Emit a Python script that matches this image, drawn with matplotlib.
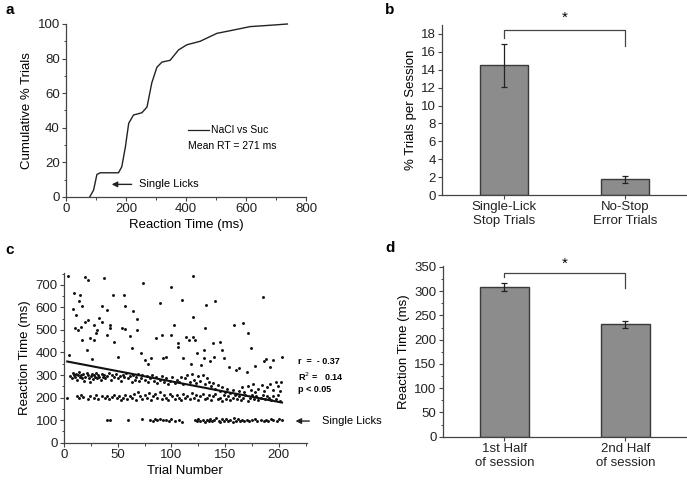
import numpy as np
import matplotlib
matplotlib.use("Agg")
import matplotlib.pyplot as plt
from matplotlib.ticker import MultipleLocator

plt.rcParams['font.family'] = ['Liberation Sans', 'DejaVu Sans']
plt.rcParams['font.size'] = 9

# ---- panel a: cumulative RT distribution
cum_rt = [79, 92, 103, 114, 175, 186, 198, 209, 225, 253, 270, 286, 303, 320, 347,
          375, 403, 447, 503, 558, 614, 692, 738]
cum_pct = [0, 4, 13, 14, 14, 17.5, 29, 42.6, 47.4, 48.7, 52, 66, 75, 78, 79,
           85, 88, 90, 94.6, 96.5, 98.5, 99.4, 100]

# ---- panel b: % trials per session
b_labels = ["Single-Lick\nStop Trials", "No-Stop\nError Trials"]
b_vals = [14.5, 1.75]
b_err = [2.4, 0.4]

# ---- panel c: RT vs trial number
upper_trial = [4, 9, 8, 11, 15, 14, 17, 20, 22, 22, 20, 10, 13, 16, 17, 21, 24, 28, 28, 33,
               35, 37, 35, 40, 31, 30, 40, 43, 43, 46, 47, 54, 57, 56, 57, 61, 63, 64, 68, 68,
               74, 72, 75, 89, 86, 91, 92, 95, 100, 102, 100, 106, 106, 110, 111, 114, 116, 120, 120, 120,
               122, 124, 132, 131, 130, 130, 139, 140, 145, 147, 141, 149, 154, 158, 160, 167, 171, 174, 170, 185,
               188, 186, 203, 195, 192, 5, 26, 50, 78, 81, 118, 128, 136, 163, 178]
upper_rt = [737, 663, 593, 567, 655, 626, 604, 734, 722, 545, 533, 508, 500, 512, 456, 411, 463, 522, 456, 552,
            537, 730, 604, 589, 500, 485, 478, 522, 508, 655, 448, 508, 503, 655, 604, 474, 419, 582, 548, 500,
            707, 397, 367, 618, 463, 478, 374, 382, 692, 522, 478, 441, 426, 633, 374, 470, 456, 737, 559, 470,
            456, 397, 611, 508, 411, 374, 441, 382, 448, 411, 626, 374, 334, 522, 323, 530, 485, 419, 315, 648,
            370, 360, 382, 367, 337, 390, 370, 380, 350, 375, 350, 345, 360, 330, 340]

band300_trial = [6, 7, 8, 9, 10, 11, 12, 13, 14, 15, 16, 17, 18, 19, 20, 21, 22, 23, 24, 25,
                 26, 27, 28, 29, 30, 31, 32, 33, 34, 35, 36, 37, 38, 40, 42, 44, 45, 47, 48, 50,
                 52, 53, 55, 56, 58, 60, 61, 63, 64, 66, 67, 69, 70, 72, 73, 75, 77, 78, 80, 82,
                 84, 86, 87, 89, 91, 93, 95, 97, 99, 101, 103, 105, 107, 109, 111, 113, 115, 117, 119, 121,
                 123, 125, 127, 129, 131, 133, 135, 137, 139, 141, 143, 145, 147, 150, 152, 155, 157, 160, 163, 166,
                 168, 171, 174, 176, 178, 181, 184, 186, 189, 192, 195, 197, 199, 201, 202]
band300_rt = [295, 285, 310, 300, 290, 305, 280, 300, 315, 290, 298, 285, 305, 275, 292, 310, 300, 288, 270, 295,
              305, 282, 298, 290, 310, 285, 300, 292, 278, 305, 290, 300, 285, 295, 310, 280, 300, 290, 305, 285,
              295, 275, 300, 290, 310, 285, 295, 270, 300, 280, 290, 305, 275, 285, 300, 280, 295, 270, 285, 300,
              275, 290, 265, 280, 295, 270, 285, 260, 275, 290, 265, 280, 270, 290, 260, 285, 300, 270, 305, 280,
              265, 295, 275, 300, 260, 285, 270, 250, 265, 240, 255, 230, 245, 225, 240, 220, 235, 215, 230, 245,
              225, 250, 235, 260, 225, 240, 255, 230, 245, 260, 235, 270, 250, 230, 270]

band200_trial = [3, 12, 14, 16, 18, 22, 24, 28, 30, 32, 35, 38, 40, 42, 45, 47, 49, 51, 53, 55,
                 57, 59, 61, 63, 65, 67, 69, 71, 73, 75, 77, 79, 81, 83, 85, 87, 89, 91, 93, 95,
                 97, 99, 101, 103, 105, 107, 109, 111, 113, 115, 117, 119, 121, 123, 125, 127, 129, 131, 133, 135,
                 137, 139, 141, 143, 145, 147, 149, 151, 153, 155, 157, 159, 161, 163, 165, 167, 169, 171, 173, 175,
                 177, 179, 181, 183, 185, 187, 189, 191, 193, 195, 197, 199, 201]
band200_rt = [200, 205, 198, 210, 202, 195, 205, 200, 210, 195, 205, 198, 208, 195, 202, 210, 196, 205, 190, 200,
              210, 195, 205, 198, 215, 190, 225, 205, 195, 210, 200, 220, 190, 205, 215, 198, 225, 195, 210, 200,
              190, 215, 205, 195, 210, 200, 190, 215, 200, 205, 195, 220, 200, 210, 190, 205, 215, 195, 200, 210,
              190, 205, 215, 195, 200, 185, 210, 195, 205, 190, 200, 210, 195, 205, 190, 200, 210, 185, 200, 210,
              195, 205, 190, 200, 210, 195, 205, 200, 190, 205, 195, 210, 185]

band100_trial = [40, 43, 60, 73, 80, 83, 85, 87, 89, 92, 95, 98, 100, 103, 107, 110, 122, 124, 125, 127,
                 129, 131, 133, 135, 136, 138, 140, 142, 144, 145, 147, 149, 151, 153, 155, 157, 158, 160, 162, 164,
                 166, 168, 170, 172, 175, 178, 180, 183, 186, 188, 190, 193, 195, 198, 200, 203]
band100_rt = [100, 100, 102, 103, 100, 98, 103, 100, 105, 102, 100, 98, 103, 96, 100, 92, 100, 95, 103, 97,
              100, 93, 102, 98, 105, 95, 100, 108, 97, 92, 103, 98, 105, 95, 100, 92, 108, 98, 103, 95,
              100, 97, 102, 95, 100, 105, 97, 100, 95, 102, 98, 105, 100, 96, 103, 100]

fit_x = [3, 203]
fit_y = [360, 178]

# ---- panel d: RT by session half
d_labels = ["1st Half\nof session", "2nd Half\nof session"]
d_vals = [308, 232]
d_err = [8, 7]

W, H = 687, 484
fig = plt.figure(figsize=(W / 100, H / 100), dpi=100)


def rect(l, r, t, b):
    return [l / W, 1 - b / H, (r - l) / W, (b - t) / H]


def style(ax):
    for s in ['top', 'right']:
        ax.spines[s].set_visible(False)
    for s in ['left', 'bottom']:
        ax.spines[s].set_color('#444444')
        ax.spines[s].set_linewidth(0.9)
    ax.tick_params(which='major', direction='out', length=3, width=0.8, color='#444444', pad=1.5)
    ax.tick_params(which='minor', direction='out', length=1.8, width=0.7, color='#444444')
    ax.tick_params(labelsize=9.5, labelcolor='#222222')


# a
ax = fig.add_axes(rect(66, 306, 24, 197))
style(ax)
ax.plot(cum_rt, cum_pct, color='#222222', lw=1.0, clip_on=False)
ax.set_xlim(0, 800)
ax.set_ylim(0, 100)
ax.xaxis.set_major_locator(MultipleLocator(200))
ax.xaxis.set_minor_locator(MultipleLocator(100))
ax.yaxis.set_major_locator(MultipleLocator(20))
ax.yaxis.set_minor_locator(MultipleLocator(10))
ax.set_xlabel("Reaction Time (ms)", fontsize=9.5, labelpad=3)
ax.set_ylabel("Cumulative % Trials", fontsize=9.5, labelpad=3)
ax.plot([408, 475], [39, 39], color='#222222', lw=0.9)
ax.text(483, 39, "NaCl vs Suc", fontsize=7.5, va='center')
ax.text(408, 29.5, "Mean RT = 271 ms", fontsize=7.5, va='center')
ax.annotate("", xy=(143, 7.3), xytext=(228, 7.3),
            arrowprops=dict(arrowstyle='-|>', color='#222222', lw=1.0, mutation_scale=8))
ax.text(242, 7.3, "Single Licks", fontsize=8, va='center')

# b
ax = fig.add_axes(rect(442, 687, 25, 195))
style(ax)
ax.bar([0, 1], b_vals, width=0.4, color='#8c8c8c', edgecolor='#3a3a3a', lw=1.0)
ax.errorbar([0, 1], b_vals, yerr=b_err, fmt='none', ecolor='#222222', elinewidth=0.9, capsize=2.5, capthick=0.9)
ax.set_xlim(-0.51, 1.51)
ax.set_ylim(0, 19)
ax.set_xticks([0, 1])
ax.set_xticklabels(b_labels, fontsize=9.5)
ax.yaxis.set_major_locator(MultipleLocator(2))
ax.set_ylabel("% Trials per Session", fontsize=9.5, labelpad=3)
ax.plot([0, 0, 1, 1], [17.6, 18.4, 18.4, 16.7], color='#444444', lw=0.9, clip_on=False)
ax.text(0.5, 19.0, "*", ha='center', va='bottom', fontsize=11)

# c
ax = fig.add_axes(rect(64, 306.7, 273.3, 442.7))
style(ax)
all_t = upper_trial + band300_trial + band200_trial + band100_trial
all_rt = upper_rt + band300_rt + band200_rt + band100_rt
ax.scatter(all_t, all_rt, s=4.5, color='#111111', lw=0)
ax.plot(fit_x, fit_y, color='#111111', lw=1.5)
ax.set_xlim(0, 226)
ax.set_ylim(0, 751)
ax.xaxis.set_major_locator(MultipleLocator(50))
ax.xaxis.set_minor_locator(MultipleLocator(25))
ax.yaxis.set_major_locator(MultipleLocator(100))
ax.yaxis.set_minor_locator(MultipleLocator(50))
ax.set_xlabel("Trial Number", fontsize=9.5, labelpad=3)
ax.set_ylabel("Reaction Time (ms)", fontsize=9.5, labelpad=3)
ax.text(218, 358, "r  =  - 0.37", fontsize=6.5, fontweight='bold', va='center', clip_on=False)
ax.text(218, 293, "R$^2$ =   0.14", fontsize=6.5, fontweight='bold', va='center', clip_on=False)
ax.text(218, 238, "p < 0.05", fontsize=6.5, fontweight='bold', va='center', clip_on=False)
ax.annotate("", xy=(213, 96), xytext=(231, 96), annotation_clip=False,
            arrowprops=dict(arrowstyle='-|>', color='#222222', lw=1.0, mutation_scale=8))
ax.text(240, 96, "Single Licks", fontsize=8, va='center', clip_on=False)

# d
ax = fig.add_axes(rect(442.7, 687, 266, 436.7))
style(ax)
ax.bar([0, 1], d_vals, width=0.4, color='#8c8c8c', edgecolor='#3a3a3a', lw=1.0)
ax.errorbar([0, 1], d_vals, yerr=d_err, fmt='none', ecolor='#222222', elinewidth=0.9, capsize=2.5, capthick=0.9)
ax.set_xlim(-0.51, 1.51)
ax.set_ylim(0, 352)
ax.set_xticks([0, 1])
ax.set_xticklabels(d_labels, fontsize=9.5)
ax.yaxis.set_major_locator(MultipleLocator(50))
ax.yaxis.set_minor_locator(MultipleLocator(25))
ax.set_ylabel("Reaction Time (ms)", fontsize=9.5, labelpad=3)
ax.plot([0, 0, 1, 1], [330, 337, 337, 306], color='#444444', lw=0.9, clip_on=False)
ax.text(0.5, 343, "*", ha='center', va='bottom', fontsize=11)

for lab, x, y in [("a", 5, 10), ("b", 385, 10), ("c", 5, 250), ("d", 385, 248)]:
    fig.text(x / W, 1 - y / H, lab, fontsize=11, fontweight='bold', va='center', ha='left')

fig.savefig("out.png", dpi=100)
